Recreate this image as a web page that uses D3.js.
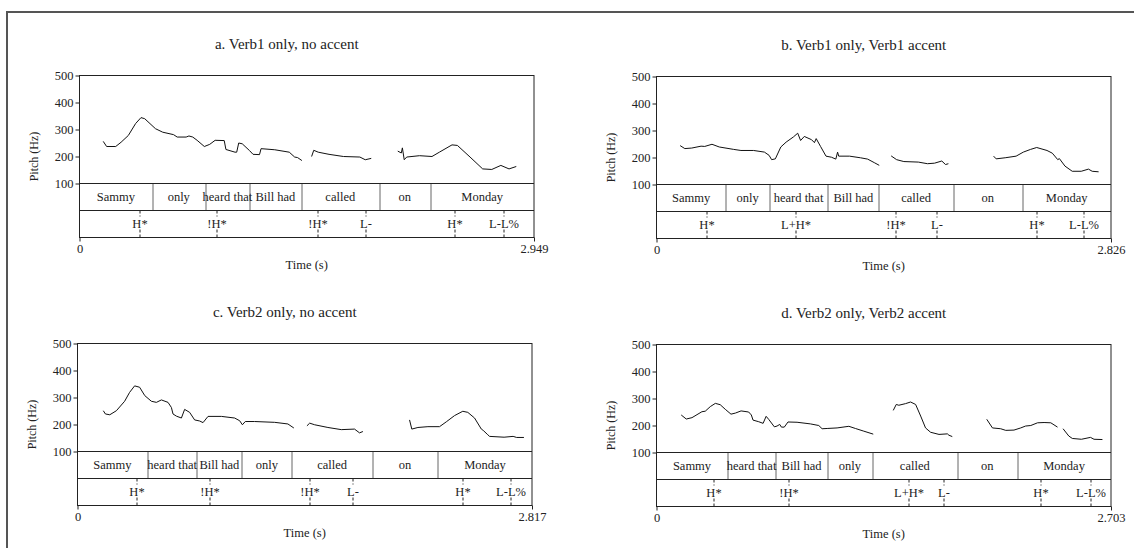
<!DOCTYPE html>
<html>
<head>
<meta charset="utf-8">
<script src="https://cdn.jsdelivr.net/npm/d3@7"></script>
<style>
  body { margin: 0; background: #fff; }
  svg { display: block; }
  text { font-family: "Liberation Serif", "Times New Roman", serif; fill: #222; }
</style>
</head>
<body>
<div id="chart"></div>
<script>
// ---- data ----
const titles = ['a. Verb1 only, no accent', 'b. Verb1 only, Verb1 accent',
                'c. Verb2 only, no accent', 'd. Verb2 only, Verb2 accent'];
const durations = [2.949, 2.826, 2.817, 2.703];
const pitchTicks = [100, 200, 300, 400, 500];

const wordsV1 = ['Sammy', 'only', 'heard that', 'Bill had', 'called', 'on', 'Monday'];
const wordsV2 = ['Sammy', 'heard that', 'Bill had', 'only', 'called', 'on', 'Monday'];
const wordBounds = [
  [0.472, 0.816, 1.103, 1.439, 1.945, 2.276],
  [0.430, 0.702, 1.065, 1.383, 1.846, 2.274],
  [0.433, 0.740, 1.019, 1.329, 1.827, 2.234],
  [0.422, 0.709, 1.016, 1.284, 1.788, 2.145]
];

const toneLabels = [
  ['H*', '!H*', '!H*', 'L-', 'H*', 'L-L%'],
  ['H*', 'L+H*', '!H*', 'L-', 'H*', 'L-L%'],
  ['H*', '!H*', '!H*', 'L-', 'H*', 'L-L%'],
  ['H*', '!H*', 'L+H*', 'L-', 'H*', 'L-L%']
];
const toneTimes = [
  [0.392, 0.887, 1.546, 1.854, 2.435, 2.748],
  [0.311, 0.867, 1.488, 1.741, 2.362, 2.657],
  [0.367, 0.820, 1.441, 1.703, 2.387, 2.682],
  [0.340, 0.786, 1.501, 1.708, 2.283, 2.580]
];

// pitch contours: [time (s), Hz], one array per voiced stretch
const pitchA = [
  [[0.154,256],[0.176,237],[0.235,237],[0.270,253],[0.317,278],[0.364,322],[0.399,344],[0.423,340],[0.493,303],[0.540,290],[0.610,281],[0.634,272],[0.692,272],[0.710,276],[0.735,272],[0.763,260],[0.810,237],[0.845,245],[0.880,260],[0.939,259],[0.950,226],[1.009,216],[1.020,216],[1.033,250],[1.056,247],[1.103,222],[1.126,208],[1.168,207],[1.178,229],[1.267,225],[1.361,216],[1.396,198],[1.415,196],[1.443,185]],
  [[1.506,200],[1.520,223],[1.549,216],[1.619,208],[1.713,200],[1.819,198],[1.854,188],[1.893,193]],
  [[2.065,220],[2.088,213],[2.095,232],[2.107,188],[2.123,198],[2.206,203],[2.287,200],[2.335,216],[2.417,243],[2.452,241],[2.534,198],[2.616,154],[2.675,152],[2.734,167],[2.787,154],[2.834,163]]
];
const pitchB = [
  [[0.147,244],[0.176,233],[0.219,235],[0.277,242],[0.300,241],[0.345,249],[0.390,239],[0.480,230],[0.525,226],[0.604,226],[0.671,220],[0.700,208],[0.716,192],[0.739,195],[0.773,239],[0.806,257],[0.851,276],[0.878,290],[0.896,263],[0.919,278],[0.964,266],[0.982,255],[0.993,270],[1.020,241],[1.054,205],[1.088,201],[1.115,194],[1.126,220],[1.133,205],[1.200,205],[1.268,199],[1.313,194],[1.354,181],[1.385,171]],
  [[1.459,206],[1.493,192],[1.538,185],[1.628,183],[1.685,177],[1.729,179],[1.774,187],[1.797,174],[1.815,177]],
  [[2.096,205],[2.112,195],[2.168,199],[2.236,205],[2.281,220],[2.326,230],[2.364,237],[2.428,226],[2.461,216],[2.495,192],[2.505,196],[2.540,168],[2.585,149],[2.641,149],[2.686,157],[2.709,149],[2.749,147]]
];
const pitchC = [
  [[0.160,251],[0.173,239],[0.200,236],[0.241,251],[0.292,286],[0.323,319],[0.354,343],[0.385,338],[0.417,307],[0.458,286],[0.489,282],[0.520,291],[0.561,282],[0.582,263],[0.592,239],[0.613,231],[0.644,224],[0.664,256],[0.695,245],[0.726,217],[0.757,213],[0.778,207],[0.809,230],[0.892,230],[0.974,224],[1.005,214],[1.022,199],[1.040,211],[1.098,211],[1.222,208],[1.304,202],[1.341,187]],
  [[1.422,195],[1.439,205],[1.470,199],[1.552,189],[1.635,181],[1.717,183],[1.748,169],[1.769,174]],
  [[2.058,217],[2.072,183],[2.110,189],[2.172,192],[2.244,192],[2.286,210],[2.337,233],[2.388,249],[2.419,245],[2.461,224],[2.503,183],[2.515,178],[2.543,162],[2.554,156],[2.644,153],[2.700,156],[2.722,152],[2.767,152]]
];
const pitchD = [
  [[0.147,239],[0.177,224],[0.211,229],[0.270,251],[0.290,253],[0.320,270],[0.350,282],[0.379,277],[0.409,260],[0.443,242],[0.469,246],[0.503,254],[0.548,250],[0.564,239],[0.574,220],[0.608,214],[0.634,208],[0.652,234],[0.667,223],[0.701,195],[0.717,198],[0.733,204],[0.743,194],[0.760,194],[0.782,213],[0.836,212],[0.915,206],[0.965,200],[0.985,188],[1.015,189],[1.074,191],[1.144,197],[1.183,189],[1.233,179],[1.289,168]],
  [[1.408,256],[1.426,278],[1.441,275],[1.481,281],[1.511,287],[1.541,278],[1.571,235],[1.600,191],[1.630,175],[1.680,167],[1.730,169],[1.739,164],[1.759,159]],
  [[1.964,223],[1.998,191],[2.047,188],[2.077,182],[2.126,183],[2.166,191],[2.195,198],[2.226,200],[2.266,210],[2.305,211],[2.345,210],[2.385,194]],
  [[2.418,188],[2.452,161],[2.473,152],[2.527,149],[2.581,156],[2.602,149],[2.652,148]]
];

// ---- layout ----
const svgWidth = 1134, svgHeight = 548;
const plotW = 454.5, pitchH = 108, tierH = 27;
const origins = [[79.5, 75.5], [656.5, 76.5], [77.5, 343.5], [656.5, 344.5]];
const panelWords = [wordsV1, wordsV1, wordsV2, wordsV2];
const panelPitch = [pitchA, pitchB, pitchC, pitchD];

const svg = d3.select('#chart')
  .append('svg')
  .attr('width', svgWidth)
  .attr('height', svgHeight);

// outer frame (only top and left edges fall inside the picture)
svg.append('path')
  .attr('d', `M7,${svgHeight}V12H${svgWidth}`)
  .attr('fill', 'none')
  .attr('stroke', '#555')
  .attr('stroke-width', 2);

const drawPanel = (i) => {
  const [left, top] = origins[i];
  const dur = durations[i];
  const boxH = pitchH + 2 * tierH;

  const g = svg.append('g').attr('transform', `translate(${left}, ${top})`);

  const x = d3.scaleLinear().domain([0, dur]).range([0, plotW]);
  const y = d3.scaleLinear().domain([100, 500]).range([pitchH, 0]);

  // title
  g.append('text')
    .attr('x', plotW / 2 - 20)
    .attr('y', -27)
    .attr('text-anchor', 'middle')
    .style('font-size', '15px')
    .text(titles[i]);

  // word boundaries
  const bounds = [0, ...wordBounds[i], dur];
  g.selectAll('line.wb')
    .data(wordBounds[i])
    .join('line')
    .attr('class', 'wb')
    .attr('x1', d => Math.round(x(d)) + 0.5)
    .attr('x2', d => Math.round(x(d)) + 0.5)
    .attr('y1', pitchH)
    .attr('y2', pitchH + tierH)
    .attr('stroke', '#666');

  g.selectAll('text.word')
    .data(panelWords[i])
    .join('text')
    .attr('class', 'word')
    .attr('x', (d, k) => (x(bounds[k]) + x(bounds[k + 1])) / 2)
    .attr('y', pitchH + tierH / 2)
    .attr('dy', '0.35em')
    .attr('text-anchor', 'middle')
    .style('font-size', '12.5px')
    .text(d => d);

  // tones
  const tones = toneTimes[i].map((t, k) => ({ t, label: toneLabels[i][k] }));
  const t0 = pitchH + tierH, t1 = pitchH + 2 * tierH;
  const toneG = g.selectAll('g.tone')
    .data(tones)
    .join('g')
    .attr('class', 'tone')
    .attr('transform', d => `translate(${Math.round(x(d.t)) + 0.5}, 0)`);
  toneG.append('line')
    .attr('y1', t0).attr('y2', t0 + 6)
    .attr('stroke', '#222').attr('stroke-dasharray', '3,2');
  toneG.append('line')
    .attr('y1', t1 - 8).attr('y2', t1)
    .attr('stroke', '#222').attr('stroke-dasharray', '3,2');
  toneG.append('text')
    .attr('y', t0 + tierH / 2)
    .attr('dy', '0.35em')
    .attr('text-anchor', 'middle')
    .style('font-size', '12.5px')
    .text(d => d.label);

  // pitch contour
  const line = d3.line().x(d => x(d[0])).y(d => y(d[1]));
  g.selectAll('path.f0')
    .data(panelPitch[i])
    .join('path')
    .attr('class', 'f0')
    .attr('d', line)
    .attr('fill', 'none')
    .attr('stroke', '#111')
    .attr('stroke-width', 1)
    .attr('stroke-linejoin', 'round');

  // box and tier lines
  g.append('rect')
    .attr('width', plotW).attr('height', boxH)
    .attr('fill', 'none').attr('stroke', '#222');
  g.selectAll('line.tier')
    .data([pitchH, pitchH + tierH])
    .join('line')
    .attr('class', 'tier')
    .attr('x2', plotW)
    .attr('y1', d => d).attr('y2', d => d)
    .attr('stroke', '#222');

  // axes
  const yAxis = g.append('g')
    .call(d3.axisLeft(y).tickValues(pitchTicks).tickSize(4).tickPadding(2));
  yAxis.select('.domain').remove();
  yAxis.selectAll('text').style('font-size', '12.5px').attr('font-family', null);

  const xAxis = g.append('g')
    .attr('transform', `translate(0, ${boxH})`)
    .call(d3.axisBottom(x)
      .tickValues([0, dur])
      .tickFormat(d => d === 0 ? '0' : d3.format('.3f')(d))
      .tickSize(4).tickPadding(3));
  xAxis.select('.domain').remove();
  xAxis.selectAll('text').style('font-size', '12.5px').attr('font-family', null);
  g.selectAll('.tick line').attr('stroke', '#222');
  g.selectAll('.tick text').attr('fill', '#222');

  // axis titles
  g.append('text')
    .attr('x', plotW / 2)
    .attr('y', boxH + 31)
    .attr('text-anchor', 'middle')
    .style('font-size', '12.5px')
    .text('Time (s)');

  g.append('text')
    .attr('transform', `translate(-46, ${boxH / 2}) rotate(-90)`)
    .attr('dy', '0.35em')
    .attr('text-anchor', 'middle')
    .style('font-size', '12px')
    .text('Pitch (Hz)');
};

d3.range(4).forEach(drawPanel);
</script>
</body>
</html>
